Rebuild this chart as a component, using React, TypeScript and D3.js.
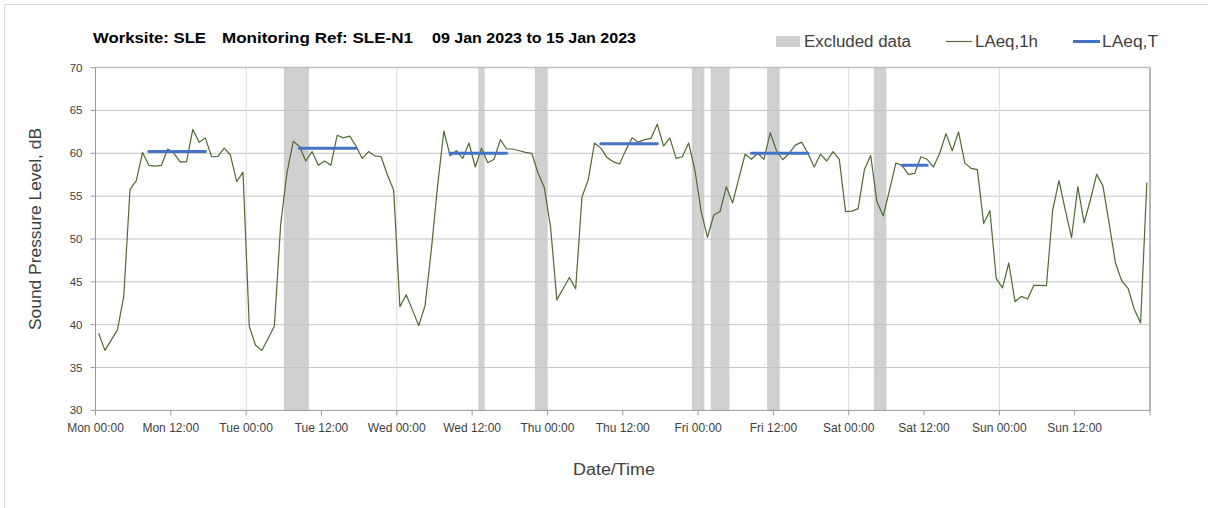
import React from "react";
import * as d3 from "d3";

const laeq1h = [
  39.0, 37.0, 38.2, 39.4, 43.3, 55.8, 56.8, 60.1, 58.6, 58.5, 58.6, 60.5,
  60.0, 59.0, 59.0, 62.8, 61.3, 61.8, 59.6, 59.65, 60.6, 59.8, 56.7, 57.8,
  39.8, 37.6, 37.0, 38.4, 39.85, 51.7, 57.7, 61.4, 60.8, 59.1, 60.2, 58.6,
  59.1, 58.6, 62.1, 61.8, 62.0, 60.85, 59.4, 60.2, 59.7, 59.6, 57.5, 55.7,
  42.1, 43.5, 41.7, 39.9, 42.2, 48.7, 56.2, 62.6, 59.7, 60.3, 59.4, 61.2,
  58.4, 60.6, 58.9, 59.3, 61.6, 60.5, 60.5, 60.3, 60.1, 60.0, 57.7, 56.0,
  51.4, 42.9, 44.2, 45.5, 44.2, 54.9, 56.9, 61.2, 60.6, 59.5, 59.0, 58.75,
  60.4, 61.8, 61.3, 61.6, 61.75, 63.4, 60.85, 61.8, 59.4, 59.6, 61.2, 58.0,
  53.2, 50.2, 52.8, 53.2, 56.1, 54.2, 57.1, 59.9, 59.3, 60.0, 59.3, 62.4,
  60.3, 59.25, 60.0, 60.95, 61.3, 60.0, 58.4, 59.9, 59.1, 60.2, 59.3, 53.2,
  53.25, 53.55, 58.1, 59.75, 54.35, 52.7, 55.7, 58.85, 58.6, 57.55, 57.65, 59.6,
  59.3, 58.4, 60.0, 62.3, 60.3, 62.5, 58.85, 58.25, 58.1, 51.8, 53.3, 45.4,
  44.3, 47.2, 42.7, 43.3, 43.0, 44.6, 44.6, 44.55, 53.4, 56.8, 53.4, 50.15,
  56.1, 51.9, 54.55, 57.55, 56.2, 51.8, 47.2, 45.1, 44.25, 41.8, 40.2, 56.6,
];

const excludedStart = [30, 61, 70, 95, 98, 107, 124];
const excludedEnd = [34, 62, 72, 97, 101, 109, 126];

const laeqTStart = [8, 32, 56, 80, 104, 128];
const laeqTEnd = [17, 41, 65, 89, 113, 132];
const laeqTValue = [60.2, 60.6, 60.0, 61.1, 60.0, 58.6];

const xTickLabels = [
  "Mon 00:00", "Mon 12:00", "Tue 00:00", "Tue 12:00", "Wed 00:00", "Wed 12:00",
  "Thu 00:00", "Thu 12:00", "Fri 00:00", "Fri 12:00", "Sat 00:00", "Sat 12:00",
  "Sun 00:00", "Sun 12:00",
];
const yTicks = [30, 35, 40, 45, 50, 55, 60, 65, 70];
const totalHours = 168;

const FONT = "'Liberation Sans', Arial, sans-serif";

export default function App() {
  const x = d3.scaleLinear().domain([0, totalHours]).range([95.5, 1150]);
  const y = d3.scaleLinear().domain([30, 70]).range([410.4, 67.6]);

  const line = d3
    .line<number>()
    .x((_, i) => x(i + 0.5))
    .y((d) => y(d));

  const xTickHours = d3.range(0, totalHours + 1, 12);
  const dayGrid = d3.range(24, totalHours, 24);

  return (
    <svg
      width={1208}
      height={508}
      style={{ position: "absolute", left: 0, top: 0, background: "#fff" }}
      fontFamily={FONT}
    >
      <rect x={4.5} y={4.5} width={1220} height={520} fill="#fff" stroke="#d9d9d9" />

      {/* excluded bands */}
      {excludedStart.map((s, i) => (
        <rect
          key={"b" + i}
          x={x(s)}
          y={y(70)}
          width={x(excludedEnd[i]) - x(s)}
          height={y(30) - y(70)}
          fill="#d0d0d0"
        />
      ))}

      {/* gridlines */}
      {yTicks
        .filter((t) => t > 30 && t < 70)
        .map((t) => (
          <line key={"h" + t} x1={x(0)} x2={x(totalHours)} y1={y(t)} y2={y(t)} stroke="#c4c4c4" strokeWidth={1} />
        ))}
      {dayGrid.map((h) => (
        <line key={"v" + h} x1={x(h)} x2={x(h)} y1={y(70)} y2={y(30)} stroke="#dcdcdc" strokeWidth={1} />
      ))}

      {/* plot frame */}
      <line x1={x(0)} x2={x(totalHours)} y1={y(70)} y2={y(70)} stroke="#bfbfbf" strokeWidth={1.5} />
      <line x1={x(totalHours)} x2={x(totalHours)} y1={y(70)} y2={y(30)} stroke="#b5b5b5" strokeWidth={2} />
      <line x1={x(0)} x2={x(0)} y1={y(70)} y2={y(30)} stroke="#9a9a9a" strokeWidth={1} />
      <line x1={x(0)} x2={x(totalHours)} y1={y(30)} y2={y(30)} stroke="#9a9a9a" strokeWidth={1} />

      {/* ticks */}
      {yTicks.map((t) => (
        <g key={"yt" + t}>
          <line x1={x(0) - 5} x2={x(0)} y1={y(t)} y2={y(t)} stroke="#9a9a9a" />
          <text x={x(0) - 13} y={y(t) + 4} fontSize={11.5} textAnchor="end" fill="#404040">
            {t}
          </text>
        </g>
      ))}
      {xTickHours.map((h) => (
        <line key={"xt" + h} x1={x(h)} x2={x(h)} y1={y(30)} y2={y(30) + 5} stroke="#9a9a9a" />
      ))}
      {xTickLabels.map((lab, i) => (
        <text key={"xl" + i} x={x(i * 12)} y={432} fontSize={12} textAnchor="middle" fill="#404040">
          {lab}
        </text>
      ))}

      {/* series */}
      <path d={line(laeq1h) ?? ""} fill="none" stroke="#4f6a32" strokeWidth={1.2} strokeLinejoin="round" />
      {laeqTStart.map((s, i) => (
        <line
          key={"t" + i}
          x1={x(s + 0.5)}
          x2={x(laeqTEnd[i] + 0.5)}
          y1={y(laeqTValue[i])}
          y2={y(laeqTValue[i])}
          stroke="#4472c4"
          strokeWidth={3}
          strokeLinecap="round"
        />
      ))}

      {/* title */}
      <g fontWeight="bold" fontSize={15.5} fill="#000">
        <text x={93} y={43} textLength={113} lengthAdjust="spacingAndGlyphs">Worksite: SLE</text>
        <text x={222} y={43} textLength={191} lengthAdjust="spacingAndGlyphs">Monitoring Ref: SLE-N1</text>
        <text x={432} y={43} textLength={204} lengthAdjust="spacingAndGlyphs">09 Jan 2023 to 15 Jan 2023</text>
      </g>

      {/* legend */}
      <rect x={776} y={36} width={24} height={11} fill="#d0d0d0" />
      <text x={804} y={47} fontSize={16} fill="#404040" textLength={107} lengthAdjust="spacingAndGlyphs">Excluded data</text>
      <line x1={946} x2={972} y1={41.5} y2={41.5} stroke="#4f6a32" strokeWidth={1.2} />
      <text x={975} y={47} fontSize={16} fill="#404040" textLength={63} lengthAdjust="spacingAndGlyphs">LAeq,1h</text>
      <line x1={1073} x2={1100} y1={41.5} y2={41.5} stroke="#4472c4" strokeWidth={3} />
      <text x={1102} y={47} fontSize={16} fill="#404040" textLength={56} lengthAdjust="spacingAndGlyphs">LAeq,T</text>

      {/* axis titles */}
      <text
        transform="translate(41,229) rotate(-90)"
        fontSize={16}
        textAnchor="middle"
        fill="#404040"
        textLength={202}
        lengthAdjust="spacingAndGlyphs"
      >
        Sound Pressure Level, dB
      </text>
      <text x={614} y={475} fontSize={16} textAnchor="middle" fill="#404040" textLength={82} lengthAdjust="spacingAndGlyphs">
        Date/Time
      </text>
    </svg>
  );
}
